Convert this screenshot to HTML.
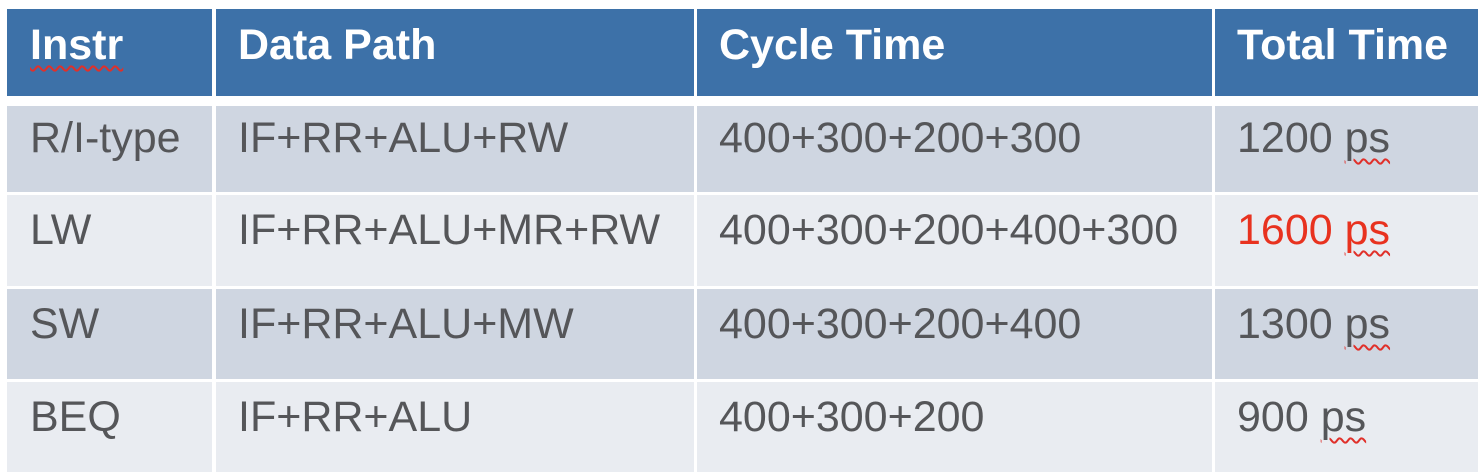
<!DOCTYPE html>
<html><head><meta charset="utf-8"><style>
body{margin:0;width:1478px;height:472px;background:#fff;overflow:hidden;position:relative;font-family:"Liberation Sans",Arial,sans-serif}
.c{position:absolute}
.h{background:#3d71a8}
.a{background:#cfd6e1}
.b{background:#e9ecf1}
.t{position:absolute;font-size:43px;line-height:43px;color:#555659;white-space:nowrap}
.ht{color:#fff;font-weight:bold}
.w{text-decoration:underline wavy #e0302a;text-decoration-thickness:2px;text-underline-offset:6px}
.red{color:#e8321f}
</style></head><body>
<div class="c h" style="left:7px;top:9px;width:205px;height:87px"></div>
<div class="c h" style="left:216px;top:9px;width:478px;height:87px"></div>
<div class="c h" style="left:697px;top:9px;width:515px;height:87px"></div>
<div class="c h" style="left:1215px;top:9px;width:263px;height:87px"></div>

<div class="c a" style="left:7px;top:106px;width:205px;height:86px"></div>
<div class="c a" style="left:216px;top:106px;width:478px;height:86px"></div>
<div class="c a" style="left:697px;top:106px;width:515px;height:86px"></div>
<div class="c a" style="left:1215px;top:106px;width:263px;height:86px"></div>

<div class="c b" style="left:7px;top:195px;width:205px;height:91px"></div>
<div class="c b" style="left:216px;top:195px;width:478px;height:91px"></div>
<div class="c b" style="left:697px;top:195px;width:515px;height:91px"></div>
<div class="c b" style="left:1215px;top:195px;width:263px;height:91px"></div>

<div class="c a" style="left:7px;top:289px;width:205px;height:90px"></div>
<div class="c a" style="left:216px;top:289px;width:478px;height:90px"></div>
<div class="c a" style="left:697px;top:289px;width:515px;height:90px"></div>
<div class="c a" style="left:1215px;top:289px;width:263px;height:90px"></div>

<div class="c b" style="left:7px;top:382px;width:205px;height:90px"></div>
<div class="c b" style="left:216px;top:382px;width:478px;height:90px"></div>
<div class="c b" style="left:697px;top:382px;width:515px;height:90px"></div>
<div class="c b" style="left:1215px;top:382px;width:263px;height:90px"></div>

<div class="t ht" style="left:30px;top:24px"><span class="w">Instr</span></div>
<div class="t ht" style="left:238px;top:24px">Data Path</div>
<div class="t ht" style="left:719px;top:24px">Cycle Time</div>
<div class="t ht" style="left:1237px;top:24px">Total Time</div>

<div class="t" style="left:30px;top:117px">R/I-type</div>
<div class="t" style="left:238px;top:117px">IF+RR+ALU+RW</div>
<div class="t" style="left:719px;top:117px">400+300+200+300</div>
<div class="t" style="left:1237px;top:117px">1200 <span class="w">ps</span></div>

<div class="t" style="left:30px;top:209px">LW</div>
<div class="t" style="left:238px;top:209px">IF+RR+ALU+MR+RW</div>
<div class="t" style="left:719px;top:209px">400+300+200+400+300</div>
<div class="t red" style="left:1237px;top:209px">1600 <span class="w">ps</span></div>

<div class="t" style="left:30px;top:303px">SW</div>
<div class="t" style="left:238px;top:303px">IF+RR+ALU+MW</div>
<div class="t" style="left:719px;top:303px">400+300+200+400</div>
<div class="t" style="left:1237px;top:303px">1300 <span class="w">ps</span></div>

<div class="t" style="left:30px;top:396px">BEQ</div>
<div class="t" style="left:238px;top:396px">IF+RR+ALU</div>
<div class="t" style="left:719px;top:396px">400+300+200</div>
<div class="t" style="left:1237px;top:396px">900 <span class="w">ps</span></div>
</body></html>
